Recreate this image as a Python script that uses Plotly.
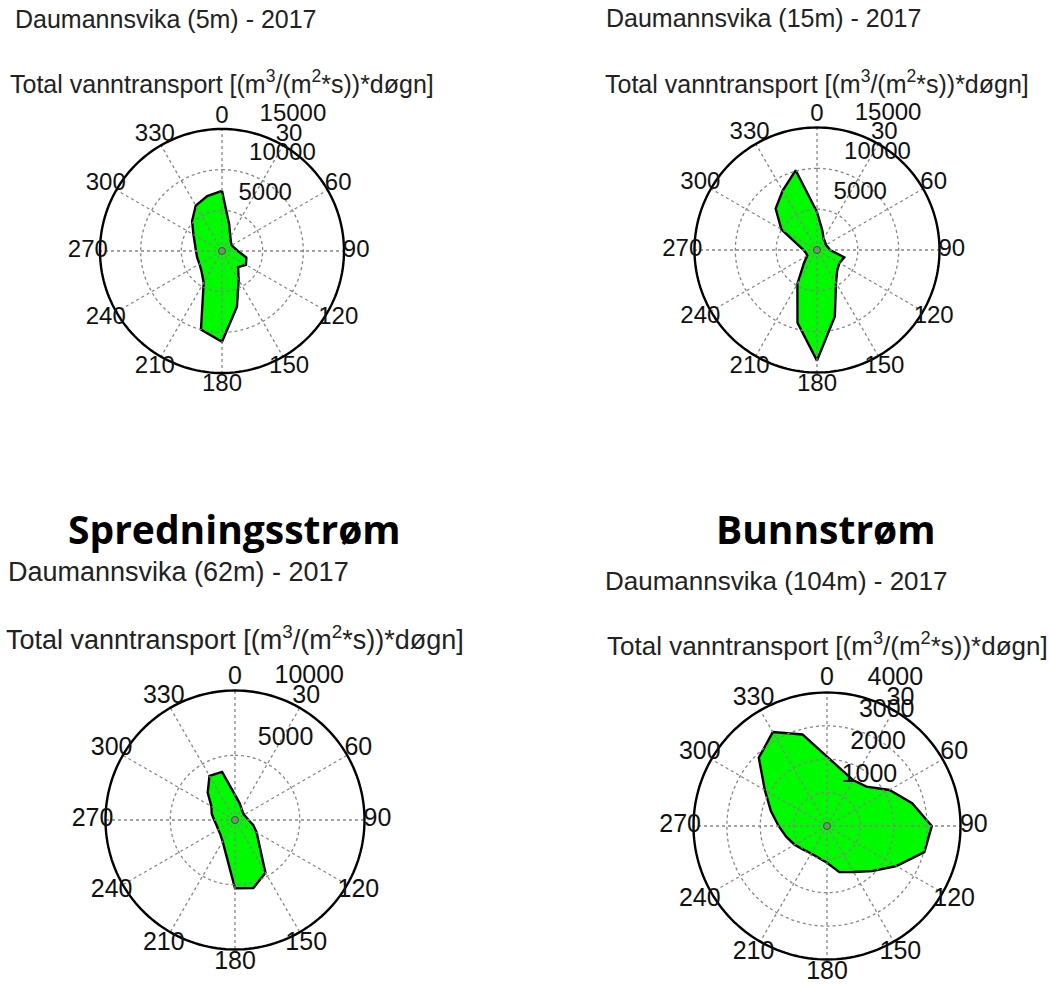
import plotly.graph_objects as go

# Compass directions (degrees) of the transport sectors
directions = list(range(0, 360, 15))

# Total water transport per direction [(m3/(m2*s))*døgn]
transport_5m = [7400, 3400, 2050, 1550, 1400, 1550, 1950, 3100, 3400, 2800, 4100, 7100,
                11150, 10000, 4500, 3550, 3200, 3150, 3200, 3450, 4050, 5200, 6450, 7000]
transport_15m = [4650, 2500, 1620, 1400, 1250, 1370, 1600, 3450, 3180, 3500, 4660, 8430,
                 13550, 9230, 4800, 2250, 1370, 1400, 1650, 2400, 5040, 7160, 8400, 10100]
transport_62m = [1940, 1350, 1010, 850, 805, 880, 1040, 1450, 1930, 2640, 4700, 5450,
                 5270, 2710, 1910, 1590, 1490, 1480, 1610, 1860, 2100, 2980, 3940, 3850]
transport_104m = [2080, 1730, 1580, 1670, 2160, 2640, 3140, 3020, 2400, 1910, 1590, 1430,
                  1100, 985, 950, 1000, 1120, 1260, 1450, 1740, 2150, 2890, 3250, 2840]

# Radial ticks for each station
rticks_5m = [5000, 10000, 15000]
rticks_15m = [5000, 10000, 15000]
rticks_62m = [5000, 10000]
rticks_104m = [1000, 2000, 3000, 4000]

# Angular ticks
angle_ticks = list(range(0, 360, 30))

station_titles = ["Daumannsvika (5m) - 2017", "Daumannsvika (15m) - 2017",
                  "Daumannsvika (62m) - 2017", "Daumannsvika (104m) - 2017"]
axis_title = "Total vanntransport [(m<sup>3</sup>/(m<sup>2</sup>*s))*døgn]"
headings = ["Spredningsstrøm", "Bunnstrøm"]

W, H = 1049, 987
FONT = "Liberation Sans, Arial, sans-serif"
PAD = 1.13          # radial room kept outside the rim for the direction labels
LABEL_R = 1.1       # direction labels sit at 1.1 x rim radius


def fx(x):
    return x / W


def fy(y):
    return 1 - y / H


panels = [
    dict(values=transport_5m, ticks=rticks_5m, cx=222, cy=251, R=122, fs=24,
         title=station_titles[0], title_x=166, title_y=19, sub_y=82, tfs=25),
    dict(values=transport_15m, ticks=rticks_15m, cx=817, cy=250, R=122.5, fs=24,
         title=station_titles[1], title_x=763, title_y=18, sub_y=82, tfs=25),
    dict(values=transport_62m, ticks=rticks_62m, cx=235, cy=820, R=129.5, fs=25,
         title=station_titles[2], title_x=178, title_y=572, sub_y=638, tfs=27),
    dict(values=transport_104m, ticks=rticks_104m, cx=827, cy=826, R=133.5, fs=25,
         title=station_titles[3], title_x=776, title_y=581, sub_y=644, tfs=26),
]

fig = go.Figure()
annotations = []
layout_polars = {}
rim_theta = list(range(0, 362, 2))

for i, p in enumerate(panels):
    key = "polar" if i == 0 else f"polar{i + 1}"
    rmax = p["ticks"][-1]
    vals = p["values"]

    # filled transport rose
    fig.add_trace(go.Scatterpolar(
        r=vals + [vals[0]], theta=directions + [directions[0]],
        mode="lines", fill="toself", fillcolor="#00fa00",
        line=dict(color="black", width=2.4), subplot=key, hoverinfo="skip",
        showlegend=False))

    # dotted grid drawn over the rose
    ring_r, ring_t = [], []
    for t in p["ticks"][:-1]:
        ring_r += [t] * len(rim_theta) + [None]
        ring_t += rim_theta + [None]
    for a in angle_ticks:
        ring_r += [0, rmax, None]
        ring_t += [a, a, None]
    fig.add_trace(go.Scatterpolar(
        r=ring_r, theta=ring_t, mode="lines",
        line=dict(color="#858585", width=1.3, dash="dot"),
        subplot=key, hoverinfo="skip", showlegend=False))

    # solid rim at the outermost radial tick
    fig.add_trace(go.Scatterpolar(
        r=[rmax] * len(rim_theta), theta=rim_theta, mode="lines",
        line=dict(color="black", width=2.4),
        subplot=key, hoverinfo="skip", showlegend=False))

    # small centre ring
    fig.add_trace(go.Scatterpolar(
        r=[0], theta=[0], mode="markers",
        marker=dict(symbol="circle-open", size=7, color="#444", line=dict(width=1)),
        subplot=key, hoverinfo="skip", showlegend=False))

    # radial tick labels
    fig.add_trace(go.Scatterpolar(
        r=p["ticks"], theta=[15] * len(p["ticks"]), mode="markers+text",
        text=[str(t) for t in p["ticks"]], textposition="top right",
        textfont=dict(family=FONT, size=p["fs"], color="#111"),
        marker=dict(size=8, color="rgba(0,0,0,0)"),
        subplot=key, hoverinfo="skip", showlegend=False, cliponaxis=False))

    # direction labels centred just outside the rim
    fig.add_trace(go.Scatterpolar(
        r=[rmax * LABEL_R] * len(angle_ticks), theta=angle_ticks, mode="text",
        text=[str(a) for a in angle_ticks], textposition="middle center",
        textfont=dict(family=FONT, size=p["fs"], color="#111"),
        subplot=key, hoverinfo="skip", showlegend=False, cliponaxis=False))

    half = p["R"] * PAD
    layout_polars[key] = dict(
        domain=dict(x=[fx(p["cx"] - half), fx(p["cx"] + half)],
                    y=[fy(p["cy"] + half), fy(p["cy"] - half)]),
        bgcolor="rgba(0,0,0,0)",
        angularaxis=dict(rotation=90, direction="clockwise", tickmode="array",
                         tickvals=angle_ticks, showticklabels=False,
                         showgrid=False, showline=False, ticks=""),
        radialaxis=dict(range=[0, rmax * PAD], showgrid=False, showticklabels=False,
                        showline=False, ticks=""),
    )

    annotations.append(dict(text=p["title"], x=fx(p["title_x"]), y=fy(p["title_y"]),
                            xref="paper", yref="paper", xanchor="center", yanchor="middle",
                            showarrow=False, font=dict(family=FONT, size=p["tfs"], color="#222")))
    annotations.append(dict(text=axis_title, x=fx(p["cx"]), y=fy(p["sub_y"]),
                            xref="paper", yref="paper", xanchor="center", yanchor="middle",
                            showarrow=False, font=dict(family=FONT, size=p["tfs"], color="#222")))

for text, cx in zip(headings, [234, 826]):
    annotations.append(dict(text=f"<b>{text}</b>", x=fx(cx), y=fy(528),
                            xref="paper", yref="paper", xanchor="center", yanchor="middle",
                            showarrow=False,
                            font=dict(family="Open Sans, sans-serif", size=39, color="black")))

fig.update_layout(width=W, height=H, margin=dict(l=0, r=0, t=0, b=0),
                  paper_bgcolor="white", plot_bgcolor="white",
                  annotations=annotations, **layout_polars)

fig.write_html("out.html")
